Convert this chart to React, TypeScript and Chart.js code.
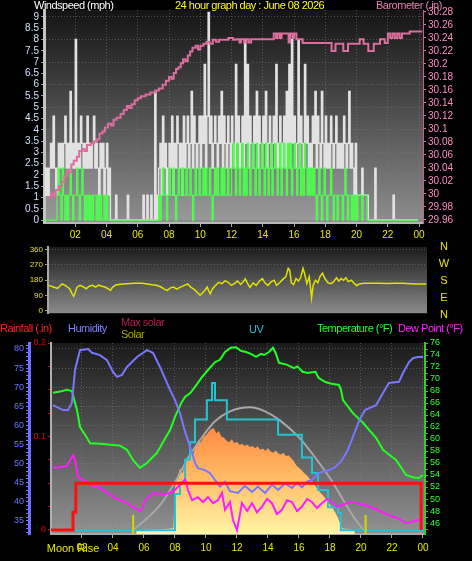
import React, { useEffect, useRef } from "react";
import { Chart, registerables } from "chart.js";

Chart.register(...registerables);

const FONT = "'Liberation Sans', Arial, sans-serif";

// ---------------- Top panel: wind speed (mph) & barometer (in) ----------------
const HOUR_TICKS = [2, 4, 6, 8, 10, 12, 14, 16, 18, 20, 22, 24];
const WIND_TICKS = [0, 0.5, 1, 1.5, 2, 2.5, 3, 3.5, 4, 4.5, 5, 5.5, 6, 6.5, 7, 7.5, 8, 8.5, 9];
const BARO_TICKS = [29.96, 29.98, 30, 30.02, 30.04, 30.06, 30.08, 30.1, 30.12, 30.14, 30.16, 30.18, 30.2, 30.22, 30.24, 30.26, 30.28];

// 5-minute samples, one row per hour
const GUST = [
  2.3, 1.1, 2.3, 1.1, 2.3, 3.4, 2.3, 4.6, 2.3, 1.1, 2.3, 3.4,
  2.3, 3.4, 2.3, 3.4, 4.6, 2.3, 3.4, 2.3, 5.7, 2.3, 3.4, 2.3,
  8, 2.3, 3.4, 2.3, 4.6, 3.4, 2.3, 3.4, 2.3, 4.6, 2.3, 3.4,
  2.3, 3.4, 4.6, 2.3, 3.4, 2.3, 1.1, 3.4, 2.3, 3.4, 1.1, 2.3,
  3.4, 1.1, 2.3, 0, 0, 0, 0, 1.1, 0, 0, 0, 0,
  0, 0, 0, 0, 1.1, 0, 0, 0, 0, 0, 0, 0,
  0, 0, 0, 0, 1.1, 0, 0, 1.1, 0, 0, 1.1, 0,
  0, 5.7, 0, 1.1, 2.3, 3.4, 1.1, 4.6, 2.3, 3.4, 1.1, 2.3,
  3.4, 2.3, 4.6, 1.1, 3.4, 2.3, 4.6, 3.4, 2.3, 3.4, 1.1, 4.6,
  2.3, 3.4, 4.6, 2.3, 3.4, 5.7, 2.3, 4.6, 3.4, 2.3, 3.4, 4.6,
  2.3, 4.6, 3.4, 6.9, 2.3, 4.6, 9.2, 3.4, 4.6, 2.3, 3.4, 4.6,
  3.4, 2.3, 4.6, 3.4, 5.7, 2.3, 4.6, 3.4, 2.3, 4.6, 3.4, 2.3,
  4.6, 3.4, 2.3, 6.9, 3.4, 4.6, 2.3, 3.4, 4.6, 2.3, 8, 3.4,
  6.9, 2.3, 4.6, 3.4, 2.3, 4.6, 3.4, 5.7, 2.3, 4.6, 3.4, 2.3,
  4.6, 3.4, 5.7, 2.3, 3.4, 4.6, 2.3, 3.4, 4.6, 3.4, 6.9, 2.3,
  3.4, 4.6, 2.3, 3.4, 4.6, 2.3, 5.7, 3.4, 6.9, 2.3, 8, 3.4,
  4.6, 2.3, 3.4, 8, 2.3, 4.6, 3.4, 2.3, 6.9, 3.4, 4.6, 2.3,
  3.4, 2.3, 4.6, 3.4, 5.7, 2.3, 4.6, 3.4, 2.3, 5.7, 3.4, 2.3,
  4.6, 2.3, 3.4, 2.3, 4.6, 3.4, 2.3, 3.4, 4.6, 2.3, 3.4, 2.3,
  3.4, 2.3, 4.6, 3.4, 2.3, 3.4, 5.7, 2.3, 3.4, 2.3, 1.1, 3.4,
  1.1, 1.1, 1.1, 1.1, 2.3, 1.1, 1.1, 1.1, 1.1, 0, 0, 0,
  0, 0, 2.3, 0, 0, 0, 0, 0, 0, 0, 0, 0,
  0, 0, 0, 0, 1.1, 0, 0, 0, 0, 0, 0, 0,
  0, 0, 0, 0, 0, 0, 0, 0, 0, 0, 0, 0,
];

const AVG = [
  0, 0, 0, 0, 0, 0, 0, 0, 0, 0, 1.1, 2.3,
  1.1, 0, 2.3, 1.1, 0, 1.1, 0, 1.1, 2.3, 1.1, 0, 1.1,
  1.1, 2.3, 1.1, 0, 1.1, 2.3, 1.1, 0, 1.1, 0, 1.1, 0,
  1.1, 0, 1.1, 1.1, 0, 1.1, 0, 1.1, 0, 0, 1.1, 0,
  1.1, 0, 0, 0, 0, 0, 0, 0, 0, 0, 0, 0,
  0, 0, 0, 0, 0, 0, 0, 0, 0, 0, 0, 0,
  0, 0, 0, 0, 0, 0, 0, 0, 0, 0, 0, 0,
  0, 0, 0, 0, 1.1, 0, 1.1, 2.3, 1.1, 1.1, 0, 1.1,
  2.3, 1.1, 1.1, 2.3, 1.1, 0, 1.1, 2.3, 1.1, 1.1, 2.3, 1.1,
  1.1, 2.3, 1.1, 1.1, 2.3, 1.1, 0, 1.1, 2.3, 1.1, 1.1, 2.3,
  1.1, 1.1, 2.3, 1.1, 2.3, 1.1, 1.1, 2.3, 1.1, 0, 1.1, 2.3,
  1.1, 2.3, 1.1, 1.1, 2.3, 1.1, 2.3, 1.1, 1.1, 2.3, 1.1, 1.1,
  2.3, 3.4, 2.3, 1.1, 3.4, 2.3, 1.1, 2.3, 3.4, 1.1, 2.3, 1.1,
  3.4, 2.3, 1.1, 2.3, 3.4, 2.3, 1.1, 3.4, 2.3, 1.1, 2.3, 3.4,
  2.3, 1.1, 3.4, 2.3, 1.1, 2.3, 3.4, 1.1, 2.3, 3.4, 2.3, 1.1,
  2.3, 3.4, 1.1, 2.3, 3.4, 2.3, 1.1, 3.4, 2.3, 3.4, 1.1, 2.3,
  3.4, 2.3, 1.1, 2.3, 3.4, 1.1, 2.3, 1.1, 3.4, 2.3, 1.1, 2.3,
  1.1, 2.3, 1.1, 2.3, 1.1, 0, 1.1, 2.3, 1.1, 0, 1.1, 2.3,
  1.1, 0, 1.1, 1.1, 2.3, 1.1, 0, 1.1, 1.1, 0, 1.1, 1.1,
  1.1, 0, 1.1, 2.3, 1.1, 0, 1.1, 1.1, 0, 1.1, 0, 1.1,
  0, 1.1, 1.1, 1.1, 0, 1.1, 1.1, 1.1, 0, 0, 0, 0,
  0, 0, 0, 0, 0, 0, 0, 0, 0, 0, 0, 0,
  0, 0, 0, 0, 0, 0, 0, 0, 0, 0, 0, 0,
  0, 0, 0, 0, 0, 0, 0, 0, 0, 0, 0, 0,
];

// [hour, inHg]
const BARO: [number, number][] = [
  [0.25, 29.994], [0.45, 30.0], [0.6, 29.997], [0.75, 30.006], [0.95, 30.012], [1.15, 30.018],
  [1.3, 30.027], [1.45, 30.036], [1.6, 30.033], [1.75, 30.045], [1.9, 30.051], [2.1, 30.057],
  [2.25, 30.066], [2.45, 30.069], [2.6, 30.066], [2.75, 30.075], [3.0, 30.078], [3.2, 30.081],
  [3.4, 30.084], [3.55, 30.093], [3.75, 30.096], [3.9, 30.102], [4.1, 30.108], [4.3, 30.105],
  [4.45, 30.114], [4.65, 30.117], [4.9, 30.123], [5.1, 30.129], [5.3, 30.135], [5.45, 30.132],
  [5.6, 30.138], [5.8, 30.144], [6.0, 30.147], [6.2, 30.15], [6.5, 30.153], [6.8, 30.156],
  [7.1, 30.159], [7.35, 30.162], [7.6, 30.168], [7.8, 30.174], [8.0, 30.18], [8.15, 30.177],
  [8.3, 30.186], [8.45, 30.192], [8.6, 30.195], [8.75, 30.201], [8.9, 30.207], [9.05, 30.204],
  [9.2, 30.213], [9.35, 30.219], [9.5, 30.225], [9.7, 30.228], [9.85, 30.222], [10.0, 30.228],
  [10.2, 30.231], [10.4, 30.234], [10.6, 30.231], [10.8, 30.237], [11.0, 30.234], [11.2, 30.237],
  [11.8, 30.24], [12.1, 30.237], [12.3, 30.238], [12.5, 30.233], [12.6, 30.238], [12.8, 30.233],
  [12.95, 30.238], [13.1, 30.233], [13.25, 30.238], [14.7, 30.247], [14.85, 30.24], [14.95, 30.247],
  [15.1, 30.24], [15.2, 30.247], [15.65, 30.233], [15.75, 30.247], [15.9, 30.24], [16.0, 30.247],
  [16.15, 30.238], [16.55, 30.232], [18.4, 30.22], [18.65, 30.231], [19.15, 30.22], [19.45, 30.231],
  [20.2, 30.238], [20.45, 30.231], [20.75, 30.22], [21.1, 30.231], [21.5, 30.238], [21.8, 30.232],
  [22.0, 30.247], [22.15, 30.24], [22.3, 30.247], [22.45, 30.24], [22.6, 30.247], [22.75, 30.24],
  [22.9, 30.247], [23.4, 30.25], [24.2, 30.25],
];

// ---------------- Middle panel: wind direction (deg) ----------------
const DIR_TICKS = [0, 90, 180, 270, 360];
const COMPASS = ["N", "W", "S", "E", "N"];
const DIR: [number, number][] = [
  [0.3, 150], [0.6, 140], [0.85, 132], [1.0, 145], [1.15, 158], [1.35, 150], [1.5, 140], [1.65, 128],
  [1.8, 100], [1.9, 85], [2.0, 110], [2.1, 138], [2.3, 150], [2.5, 142], [2.7, 130], [2.9, 145],
  [3.1, 150], [3.3, 140], [3.5, 152], [3.7, 145], [3.9, 140], [4.1, 130], [4.25, 120], [4.4, 140],
  [4.6, 152], [4.9, 157], [5.3, 160], [5.8, 162], [6.3, 163], [6.6, 158], [6.9, 153], [7.2, 150],
  [7.5, 140], [7.7, 128], [7.9, 120], [8.1, 135], [8.3, 140], [8.5, 128], [8.7, 138], [9.0, 150],
  [9.2, 158], [9.4, 140], [9.6, 128], [9.8, 110], [10.0, 92], [10.15, 105], [10.3, 120], [10.45, 140],
  [10.55, 118], [10.65, 100], [10.8, 130], [11.0, 150], [11.2, 168], [11.4, 160], [11.6, 176], [11.8, 168],
  [12.0, 150], [12.2, 160], [12.4, 175], [12.6, 155], [12.75, 170], [12.9, 188], [13.05, 160], [13.2, 138],
  [13.4, 165], [13.6, 150], [13.8, 175], [14.0, 190], [14.15, 165], [14.35, 150], [14.55, 170], [14.75, 180],
  [14.9, 150], [15.1, 165], [15.3, 185], [15.5, 200], [15.65, 250], [15.75, 240], [15.85, 165], [16.0, 155],
  [16.15, 190], [16.3, 175], [16.45, 195], [16.6, 250], [16.7, 220], [16.85, 160], [17.0, 200], [17.1, 120],
  [17.15, 75], [17.25, 150], [17.4, 180], [17.55, 165], [17.7, 205], [17.85, 222], [18.0, 190], [18.2, 165],
  [18.4, 160], [18.55, 170], [18.75, 195], [18.9, 175], [19.05, 190], [19.2, 180], [19.35, 195], [19.5, 172],
  [19.7, 180], [19.9, 160], [20.05, 148], [20.2, 158], [20.5, 163], [21.0, 162], [21.5, 163], [22.0, 161],
  [22.5, 163], [23.0, 162], [23.5, 160], [24.0, 158], [24.5, 158],
];

// ---------------- Bottom panel ----------------
const HUM_TICKS = Array.from({ length: 50 }, (_, i) => 32 + i);
const RAIN_TICKS = [0, 0.025, 0.05, 0.075, 0.1, 0.125, 0.15, 0.175, 0.2];
const TEMP_TICKS = Array.from({ length: 32 }, (_, i) => 45 + i);

const TEMP: [number, number][] = [
  [0.13, 67.7], [0.58, 67.9], [1.03, 68.2], [1.35, 68.0], [1.68, 64.8], [1.87, 62], [2.32, 60.2], [2.52, 59.3],
  [3.16, 59.2], [4.0, 59.0], [4.45, 58.9], [4.9, 58.2], [5.29, 56.5], [5.74, 55.2], [6.19, 56], [6.84, 57.7],
  [7.23, 59.5], [7.68, 61.5], [8.0, 63.7], [8.4, 66], [8.65, 67], [9.0, 67.7], [9.29, 68.7], [9.74, 70.3],
  [10.13, 71.5], [10.58, 72.8], [10.9, 73.2], [11.23, 74.5], [11.6, 75.2], [11.94, 75.3], [12.25, 74.7],
  [12.58, 74.5], [12.9, 74.2], [13.23, 73.7], [13.55, 74.2], [13.75, 74.0], [14.06, 74.5], [14.32, 75.2],
  [14.5, 74.3], [14.71, 72.7], [15.2, 72.4], [15.68, 71.8], [15.9, 72.1], [16.23, 71.2], [16.55, 71.0],
  [17.06, 71.2], [17.26, 70.2], [17.7, 69.5], [18.1, 69.2], [18.58, 69], [18.71, 68.2], [18.84, 66.5],
  [19.48, 64.3], [20.13, 62.7], [20.97, 60.2], [21.42, 58.2], [22.0, 57.0], [22.26, 56.5], [22.71, 54.8],
  [22.9, 54], [23.4, 53.6], [23.74, 53.5], [24.0, 54],
];

const HUM: [number, number][] = [
  [0.13, 65.3], [0.77, 64], [1.1, 64], [1.35, 65.9], [1.55, 74.5], [1.87, 79.7], [2.39, 80], [2.65, 79],
  [3.16, 78.4], [3.61, 77.1], [4.0, 74], [4.26, 72.7], [4.58, 73.2], [4.9, 75.3], [5.55, 77.9], [6.19, 79.7],
  [6.58, 79], [7.03, 75.3], [7.68, 69.3], [8.0, 66.6], [8.32, 63.2], [8.65, 58.3], [9.1, 52.8], [9.29, 50.2],
  [9.48, 48.8], [9.94, 48.3], [10.26, 47.5], [10.58, 45.7], [10.9, 44], [11.23, 45.2], [11.55, 42.8],
  [12.06, 42.3], [12.5, 44.2], [12.97, 42.6], [13.35, 44], [13.81, 42.3], [14.26, 44.5], [14.65, 43.1],
  [15.1, 44.8], [15.55, 43.6], [15.87, 45], [16.19, 43.8], [16.52, 45.3], [16.84, 45.7], [17.16, 47.2],
  [17.48, 47.8], [17.87, 48.2], [18.32, 49], [18.77, 50.9], [19.16, 53.6], [19.48, 57], [19.9, 61.4],
  [20.26, 64], [20.97, 65.3], [21.42, 68.5], [21.8, 71.1], [22.45, 71.4], [22.71, 73.7], [23.1, 76.6],
  [23.35, 77.6], [23.68, 77.9], [24.0, 77.9],
];

const DEW: [number, number][] = [
  [0.13, 55.2], [0.58, 55.3], [1.03, 55.5], [1.42, 57.3], [1.55, 56.5], [1.74, 53.7], [2.52, 52.5],
  [3.16, 51.8], [4.13, 50.2], [4.77, 49.5], [5.61, 48.2], [5.8, 48.0], [6.06, 49.8], [6.58, 51], [7.35, 50.8],
  [7.87, 51.2], [8.45, 52.7], [8.65, 53.3], [8.84, 51.5], [9.1, 49.8], [9.48, 50.3], [9.81, 49.5],
  [10.13, 50.3], [10.45, 49.3], [10.77, 49.8], [11.03, 51.0], [11.23, 48.2], [11.55, 49.5], [11.74, 46.5],
  [12.0, 44.8], [12.32, 49.3], [12.65, 48.0], [12.97, 49.3], [13.29, 47.8], [13.61, 48.7], [13.94, 50.0],
  [14.26, 49.3], [14.58, 47.5], [14.9, 48.2], [15.23, 49.8], [15.55, 49.5], [15.87, 48.0], [16.19, 48.7],
  [16.52, 50.0], [16.84, 49.5], [17.16, 48.5], [17.48, 49.3], [17.81, 50.0], [18.13, 49.5], [18.45, 48.7],
  [18.77, 49.0], [19.29, 49.5], [19.94, 49.2], [20.58, 48.7], [21.23, 48.0], [21.87, 47.2], [22.39, 46.8],
  [22.9, 46.0], [23.29, 46.2], [23.68, 46.5], [24.0, 46.8],
];

// [hour, W/m2]
const SOLAR: [number, number][] = [
  [5.5, 0], [6.2, 3], [7.0, 6], [7.9, 10], [8.0, 230], [8.17, 290], [8.33, 330], [8.5, 305], [8.67, 374],
  [8.83, 392], [9.0, 420], [9.17, 402], [9.33, 452], [9.5, 480], [9.67, 468], [9.83, 500], [10.0, 508],
  [10.17, 526], [10.33, 540], [10.5, 546], [10.67, 518], [10.83, 530], [11.0, 500], [11.17, 494],
  [11.33, 478], [11.5, 470], [11.67, 486], [11.83, 464], [12.0, 472], [12.17, 455], [12.33, 462],
  [12.5, 450], [12.67, 458], [12.83, 444], [13.0, 450], [13.17, 438], [13.33, 448], [13.5, 430],
  [13.67, 436], [13.83, 424], [14.0, 438], [14.17, 420], [14.33, 414], [14.5, 426], [14.67, 410],
  [14.83, 404], [15.0, 412], [15.17, 395], [15.33, 400], [15.5, 384], [15.67, 368], [15.83, 346],
  [16.0, 334], [16.17, 320], [16.33, 306], [16.5, 294], [16.67, 276], [16.83, 264], [17.0, 246],
  [17.17, 222], [17.33, 206], [17.5, 190], [17.67, 174], [17.83, 156], [18.0, 136], [18.17, 118],
  [18.33, 96], [18.5, 70], [18.67, 32], [18.8, 10], [19.3, 4], [19.6, 0],
];

const MAX_SOLAR: [number, number][] = [
  [5.29, 0], [6.06, 53], [7.03, 134], [8.0, 256], [8.84, 384], [9.61, 481], [10.58, 582], [11.55, 635],
  [12.84, 657], [13.81, 635], [14.77, 587], [16.06, 491], [17.03, 390], [18.13, 262], [18.97, 144],
  [19.68, 53], [20.19, 0],
];

const UV: [number, number][] = [
  [0, 0], [8.0, 1.9], [8.32, 2.5], [8.65, 3.7], [8.97, 4.6], [9.29, 5.8], [10.06, 6.8], [10.39, 7.7],
  [10.58, 6.8], [11.35, 5.8], [14.65, 5.0], [16.19, 3.8], [16.84, 3.0], [17.23, 2.1], [17.87, 1.2],
  [18.52, 0.9], [18.7, 0], [24.1, 0],
];

const RAIN: [number, number][] = [[0, 0], [1.42, 0.019], [1.6, 0.05], [23.88, 0]];

const SUN_EVENTS = [5.3, 20.3];
const MOON_RISE = 1.42;

// ---------------- helpers ----------------
const pts = (a: [number, number][]) => a.map(([x, y]) => ({ x, y }));
const setTicks = (vals: number[]) => (s: any) => {
  s.ticks = vals.map((v) => ({ value: v }));
};
const hourLabel = (v: any) => (v === 24 ? "00" : String(v).padStart(2, "0"));
const GRID_DOT = "rgba(125,125,125,0.55)";

function panelBg(top: string, bottom: string) {
  return {
    id: "panelBg",
    beforeDraw(chart: any) {
      const { ctx, chartArea: a } = chart;
      if (!a) return;
      const g = ctx.createLinearGradient(0, a.top, 0, a.bottom);
      g.addColorStop(0, top);
      g.addColorStop(1, bottom);
      ctx.save();
      ctx.fillStyle = g;
      ctx.fillRect(a.left, a.top, a.right - a.left, a.bottom - a.top);
      ctx.restore();
    },
  };
}

const markers = {
  id: "markers",
  afterDatasetsDraw(chart: any) {
    const { ctx, chartArea: a, scales } = chart;
    ctx.save();
    ctx.strokeStyle = "#d8d800";
    ctx.lineWidth = 2;
    SUN_EVENTS.forEach((h) => {
      const x = scales.x.getPixelForValue(h);
      ctx.beginPath();
      ctx.moveTo(x, a.bottom);
      ctx.lineTo(x, a.bottom - 19);
      ctx.stroke();
    });
    ctx.restore();
  },
  afterDraw(chart: any) {
    const { ctx, chartArea: a, scales } = chart;
    ctx.save();
    ctx.font = `11px ${FONT}`;
    ctx.fillStyle = "#e6e600";
    ctx.textAlign = "center";
    ctx.textBaseline = "alphabetic";
    ctx.fillText("Moon Rise", scales.x.getPixelForValue(MOON_RISE), a.bottom + 18);
    ctx.restore();
  },
};

const T = (left: number, top: number, color: string, text: string, size = 11) => (
  <span
    style={{
      position: "absolute",
      left,
      top,
      color,
      fontSize: size,
      lineHeight: `${size}px`,
      whiteSpace: "nowrap",
      letterSpacing: "-0.5px",
      fontFamily: FONT,
    }}
  >
    {text}
  </span>
);

export default function App() {
  const topRef = useRef<HTMLCanvasElement>(null);
  const midRef = useRef<HTMLCanvasElement>(null);
  const botRef = useRef<HTMLCanvasElement>(null);

  useEffect(() => {
    document.body.style.margin = "0";
    document.body.style.background = "#000";
    Chart.defaults.font.family = FONT;
    const charts: Chart[] = [];
    const times = GUST.map((_, i) => i / 12);

    // ---------- top ----------
    charts.push(
      new Chart(topRef.current!, {
        type: "line",
        data: {
          datasets: [
            {
              label: "Barometer",
              data: pts(BARO),
              yAxisID: "baro",
              borderColor: "#dc6ea0",
              borderWidth: 2,
              stepped: true,
              pointRadius: 0,
              order: 0,
            },
            {
              label: "Average",
              data: times.map((x, i) => ({ x, y: AVG[i] })),
              yAxisID: "y",
              borderColor: "#4cff4c",
              borderWidth: 1.2,
              stepped: true,
              pointRadius: 0,
              order: 1,
            },
            {
              label: "Gust",
              data: times.map((x, i) => ({ x, y: GUST[i] })),
              yAxisID: "y",
              borderColor: "#e2e2e2",
              borderWidth: 1.4,
              stepped: true,
              pointRadius: 0,
              fill: "origin",
              backgroundColor: "rgba(200,200,200,0.2)",
              order: 2,
            },
          ] as any,
        },
        options: {
          responsive: false,
          animation: false,
          layout: { padding: { top: 10, left: 0, right: 0, bottom: 0 } },
          plugins: { legend: { display: false }, tooltip: { enabled: false } },
          scales: {
            x: {
              type: "linear",
              min: 0,
              max: 24.25,
              afterBuildTicks: setTicks(HOUR_TICKS),
              afterFit: (s: any) => {
                s.height = 22;
              },
              ticks: { color: "#e6e600", font: { size: 10 }, padding: 2, maxRotation: 0, autoSkip: false, callback: hourLabel },
              grid: { color: GRID_DOT, tickColor: "#a8a8a8", tickLength: 4 },
              border: { color: "#b8b8b8", width: 2, dash: [1, 2] },
            },
            y: {
              position: "left",
              min: -0.13,
              max: 9.31,
              afterBuildTicks: setTicks(WIND_TICKS),
              afterFit: (s: any) => {
                s.width = 44;
              },
              ticks: { color: "#cfe0ff", font: { size: 10 }, padding: 2, autoSkip: false, callback: (v: any) => String(v) },
              grid: {
                color: (c: any) => (Number.isInteger(c.tick?.value) ? GRID_DOT : "rgba(0,0,0,0)"),
                tickColor: "#9a9a9a",
                tickLength: 3,
              },
              border: { color: "#c4c4c4", width: 3, dash: [1, 2] },
            },
            baro: {
              position: "right",
              min: 29.955,
              max: 30.283,
              afterBuildTicks: setTicks(BARO_TICKS),
              afterFit: (s: any) => {
                s.width = 49;
              },
              ticks: { color: "#ff8cc0", font: { size: 10 }, padding: 2, autoSkip: false, callback: (v: any) => String(v) },
              grid: { drawOnChartArea: false, tickColor: "#dc6ea0", tickLength: 3 },
              border: { color: "#c8608f", width: 1 },
            },
          },
        },
        plugins: [panelBg("#141414", "#8e8e8e")],
      } as any)
    );

    // ---------- middle ----------
    charts.push(
      new Chart(midRef.current!, {
        type: "line",
        data: {
          datasets: [
            {
              label: "Wind direction",
              data: pts(DIR),
              borderColor: "#e2e200",
              borderWidth: 1.5,
              pointRadius: 0,
            },
          ],
        },
        options: {
          responsive: false,
          animation: false,
          layout: { padding: { top: 6, left: 0, right: 45, bottom: 4 } },
          plugins: { legend: { display: false }, tooltip: { enabled: false } },
          scales: {
            x: { type: "linear", min: 0.25, max: 24.55, display: false },
            y: {
              min: -14,
              max: 377,
              afterBuildTicks: setTicks(DIR_TICKS),
              afterFit: (s: any) => {
                s.width = 48;
              },
              ticks: { color: "#e2e200", font: { size: 8 }, padding: 2, autoSkip: false },
              grid: { color: GRID_DOT, tickColor: "#9a9a9a", tickLength: 3 },
              border: { color: "#a8a8a8", width: 2, dash: [1, 2] },
            },
          },
        },
        plugins: [panelBg("#1a1a1a", "#8a8a8a")],
      } as any)
    );

    // ---------- bottom ----------
    const solarFill = (c: any) => {
      const ch = c.chart;
      const s = ch.scales?.solar;
      if (!ch.chartArea || !s) return "#ffb060";
      const g = ch.ctx.createLinearGradient(0, s.getPixelForValue(560), 0, ch.chartArea.bottom);
      g.addColorStop(0, "#ff8840");
      g.addColorStop(0.45, "#ffb862");
      g.addColorStop(1, "#fff6a6");
      return g;
    };

    charts.push(
      new Chart(botRef.current!, {
        type: "line",
        data: {
          datasets: [
            { label: "Rainfall", data: pts(RAIN), yAxisID: "rain", borderColor: "#ff1010", borderWidth: 3, stepped: true, pointRadius: 0, order: 0 },
            { label: "Dew Point", data: pts(DEW), yAxisID: "temp", borderColor: "#ff1cff", borderWidth: 2, pointRadius: 0, order: 1 },
            { label: "Humidity", data: pts(HUM), yAxisID: "hum", borderColor: "#7878ff", borderWidth: 2, pointRadius: 0, order: 2 },
            { label: "Temperature", data: pts(TEMP), yAxisID: "temp", borderColor: "#22ff22", borderWidth: 2, pointRadius: 0, order: 3 },
            { label: "UV", data: pts(UV), yAxisID: "uv", borderColor: "#22c4d4", borderWidth: 2, stepped: true, pointRadius: 0, order: 4 },
            {
              label: "Max solar",
              data: pts(MAX_SOLAR),
              yAxisID: "solar",
              borderColor: "#a8a8a8",
              borderWidth: 2,
              pointRadius: 0,
              cubicInterpolationMode: "monotone",
              order: 5,
            },
            {
              label: "Solar",
              data: pts(SOLAR),
              yAxisID: "solar",
              borderWidth: 0,
              borderColor: "rgba(0,0,0,0)",
              backgroundColor: solarFill,
              fill: "start",
              pointRadius: 0,
              order: 6,
            },
          ] as any,
        },
        options: {
          responsive: false,
          animation: false,
          layout: { padding: { top: 27, left: 0, right: 0, bottom: 0 } },
          plugins: { legend: { display: false }, tooltip: { enabled: false } },
          scales: {
            x: {
              type: "linear",
              min: 0,
              max: 24.13,
              afterBuildTicks: setTicks(HOUR_TICKS),
              afterFit: (s: any) => {
                s.height = 27;
              },
              ticks: { color: "#e6e600", font: { size: 10 }, padding: 4, maxRotation: 0, autoSkip: false, callback: hourLabel },
              grid: { color: GRID_DOT, tickColor: "#a8a8a8", tickLength: 4 },
              border: { color: "#a8a8a8", width: 2, dash: [1, 2] },
            },
            hum: {
              position: "left",
              weight: 1,
              min: 31.57,
              max: 81.57,
              afterBuildTicks: setTicks(HUM_TICKS),
              afterFit: (s: any) => {
                s.width = 29;
              },
              ticks: { color: "#6c78ff", font: { size: 9 }, padding: 2, autoSkip: false, callback: (v: any) => (v % 5 === 0 ? String(v) : "") },
              grid: {
                color: (c: any) => (c.tick && c.tick.value % 5 === 0 ? GRID_DOT : "rgba(0,0,0,0)"),
                tickColor: "#7070ff",
                tickLength: 3,
              },
              border: { color: "#7070ff", width: 3, dash: [1, 2] },
            },
            rain: {
              position: "left",
              weight: 0,
              min: -0.0043,
              max: 0.2,
              afterBuildTicks: setTicks(RAIN_TICKS),
              afterFit: (s: any) => {
                s.width = 22;
              },
              ticks: {
                color: "#e00000",
                font: { size: 9 },
                padding: 2,
                autoSkip: false,
                callback: (v: any) => (v === 0 || v === 0.1 || v === 0.2 ? String(v) : ""),
              },
              grid: { drawOnChartArea: false, tickColor: "#e00000", tickLength: 3 },
              border: { color: "#b0b0b0", width: 2 },
            },
            temp: {
              position: "right",
              min: 44.17,
              max: 76,
              afterBuildTicks: setTicks(TEMP_TICKS),
              afterFit: (s: any) => {
                s.width = 47;
              },
              ticks: { color: "#2cff2c", font: { size: 9 }, padding: 2, autoSkip: false, callback: (v: any) => (v % 2 === 0 ? String(v) : "") },
              grid: { drawOnChartArea: false, tickColor: "#22cc22", tickLength: 3 },
              border: { color: "#2ad02a", width: 2 },
            },
            solar: { display: false, min: -20, max: 1000 },
            uv: { display: false, min: -0.2, max: 9.8 },
          },
        },
        plugins: [panelBg("#1a1a1a", "#929292"), markers],
      } as any)
    );

    return () => charts.forEach((c) => c.destroy());
  }, []);

  return (
    <div style={{ position: "relative", width: 472, height: 561, background: "#000", overflow: "hidden", fontFamily: FONT }}>
      <canvas ref={topRef} width={472} height={245} style={{ position: "absolute", left: 0, top: 0 }} />
      <canvas ref={midRef} width={472} height={80} style={{ position: "absolute", left: 0, top: 240 }} />
      <canvas ref={botRef} width={472} height={245} style={{ position: "absolute", left: 0, top: 316 }} />

      {T(34, 0, "#ffffff", "Windspeed (mph)")}
      {T(175, 0, "#ffff00", "24 hour graph day : June 08 2026")}
      {T(376, 0, "#e880b0", "Barometer (.in)")}

      {COMPASS.map((c, i) => (
        <span
          key={i}
          style={{
            position: "absolute",
            left: 438,
            width: 12,
            textAlign: "center",
            top: 241 + i * 17,
            color: "#e6e600",
            fontSize: 11,
            lineHeight: "11px",
            fontFamily: FONT,
          }}
        >
          {c}
        </span>
      ))}

      {T(0, 323, "#ff2020", "Rainfall (.in)")}
      {T(68, 323, "#8080ff", "Humidity")}
      {T(121, 317, "#b01e4e", "Max solar")}
      {T(121, 329, "#a8a800", "Solar")}
      {T(249, 324, "#20c0d8", "UV")}
      {T(317, 323, "#22ff22", "Temperature (°F)")}
      {T(398, 323, "#ff20ff", "Dew Point (°F)")}
    </div>
  );
}
